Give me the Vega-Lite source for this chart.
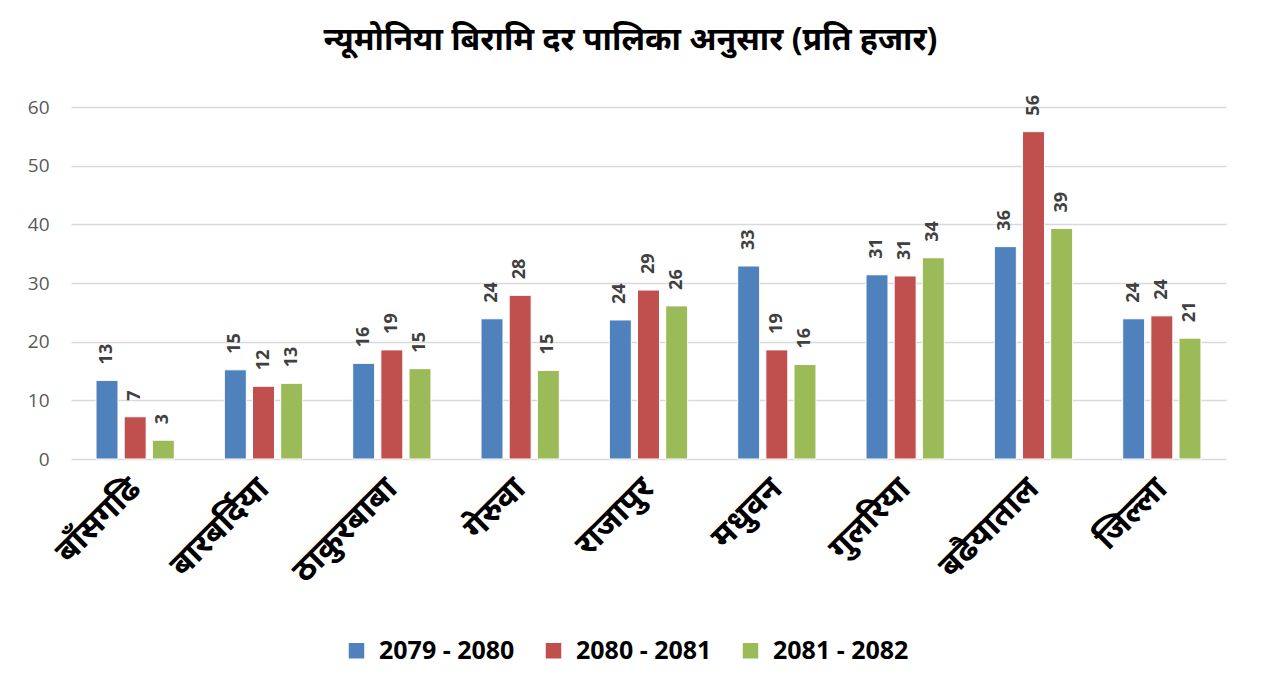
{
  "$schema": "https://vega.github.io/schema/vega-lite/v6.json",
  "autosize": "none",
  "width": 1155,
  "height": 352,
  "padding": {"left": 71, "top": 107, "right": 35, "bottom": 229},
  "background": "white",
  "config": {"view": {"stroke": null}},
  "title": {
    "text": "न्यूमोनिया बिरामि दर पालिका अनुसार (प्रति हजार)",
    "font": "Noto Sans",
    "fontSize": 32,
    "fontWeight": "bold",
    "color": "#000000",
    "anchor": "middle",
    "dx": -18,
    "offset": 38
  },
  "data": {
    "values": [
      {"palika": "बाँसगढि", "year": "2079 - 2080", "value": 13.4},
      {"palika": "बाँसगढि", "year": "2080 - 2081", "value": 7.2},
      {"palika": "बाँसगढि", "year": "2081 - 2082", "value": 3.2},
      {"palika": "बारबर्दिया", "year": "2079 - 2080", "value": 15.2},
      {"palika": "बारबर्दिया", "year": "2080 - 2081", "value": 12.4},
      {"palika": "बारबर्दिया", "year": "2081 - 2082", "value": 12.9},
      {"palika": "ठाकुरबाबा", "year": "2079 - 2080", "value": 16.3},
      {"palika": "ठाकुरबाबा", "year": "2080 - 2081", "value": 18.6},
      {"palika": "ठाकुरबाबा", "year": "2081 - 2082", "value": 15.4},
      {"palika": "गेरुवा", "year": "2079 - 2080", "value": 23.9},
      {"palika": "गेरुवा", "year": "2080 - 2081", "value": 27.9},
      {"palika": "गेरुवा", "year": "2081 - 2082", "value": 15.1},
      {"palika": "राजापुर", "year": "2079 - 2080", "value": 23.7},
      {"palika": "राजापुर", "year": "2080 - 2081", "value": 28.8},
      {"palika": "राजापुर", "year": "2081 - 2082", "value": 26.1},
      {"palika": "मधुवन", "year": "2079 - 2080", "value": 32.9},
      {"palika": "मधुवन", "year": "2080 - 2081", "value": 18.6},
      {"palika": "मधुवन", "year": "2081 - 2082", "value": 16.1},
      {"palika": "गुलरिया", "year": "2079 - 2080", "value": 31.4},
      {"palika": "गुलरिया", "year": "2080 - 2081", "value": 31.2},
      {"palika": "गुलरिया", "year": "2081 - 2082", "value": 34.3},
      {"palika": "बढैयाताल", "year": "2079 - 2080", "value": 36.2},
      {"palika": "बढैयाताल", "year": "2080 - 2081", "value": 55.8},
      {"palika": "बढैयाताल", "year": "2081 - 2082", "value": 39.3},
      {"palika": "जिल्ला", "year": "2079 - 2080", "value": 23.9},
      {"palika": "जिल्ला", "year": "2080 - 2081", "value": 24.4},
      {"palika": "जिल्ला", "year": "2081 - 2082", "value": 20.6}
    ]
  },
  "encoding": {
    "x": {
      "field": "palika",
      "type": "nominal",
      "sort": null,
      "title": null,
      "scale": {"paddingInner": 0.39, "paddingOuter": 0.195},
      "axis": {
        "labelAngle": -45,
        "labelAlign": "right",
        "labelBaseline": "middle",
        "labelFont": "Noto Sans",
        "labelFontSize": 33,
        "labelFontWeight": "bold",
        "labelColor": "#000000",
        "labelPadding": 24,
        "labelLimit": 300,
        "ticks": false,
        "domain": false,
        "grid": false
      }
    },
    "xOffset": {
      "field": "year",
      "type": "nominal",
      "scale": {"paddingInner": 0.22, "paddingOuter": 0}
    },
    "y": {
      "field": "value",
      "type": "quantitative",
      "title": null,
      "scale": {"domain": [0, 60]},
      "axis": {
        "values": [0, 10, 20, 30, 40, 50, 60],
        "labelFont": "Open Sans",
        "labelFontSize": 19,
        "labelColor": "#595959",
        "labelPadding": 22,
        "ticks": false,
        "domain": false,
        "gridColor": "#d9d9d9",
        "gridWidth": 1.5
      }
    }
  },
  "layer": [
    {
      "mark": {"type": "bar", "stroke": "white", "strokeWidth": 1},
      "encoding": {
        "color": {
          "field": "year",
          "type": "nominal",
          "scale": {"range": ["#4F81BD", "#C0504D", "#9BBB59"]},
          "legend": {
            "title": null,
            "orient": "none",
            "legendX": 273,
            "legendY": 531,
            "direction": "horizontal",
            "symbolType": "square",
            "symbolSize": 240,
            "symbolStrokeWidth": 0,
            "labelFont": "Open Sans",
            "labelFontSize": 25,
            "labelFontWeight": "bold",
            "labelColor": "#000000",
            "columnPadding": 26,
            "labelOffset": 10
          }
        }
      }
    },
    {
      "mark": {
        "type": "text",
        "angle": 270,
        "align": "left",
        "baseline": "middle",
        "dx": 16,
        "font": "Open Sans",
        "fontSize": 18,
        "fontWeight": "bold",
        "color": "#404040"
      },
      "encoding": {
        "text": {"field": "value", "type": "quantitative", "format": ".0f"}
      }
    }
  ]
}
